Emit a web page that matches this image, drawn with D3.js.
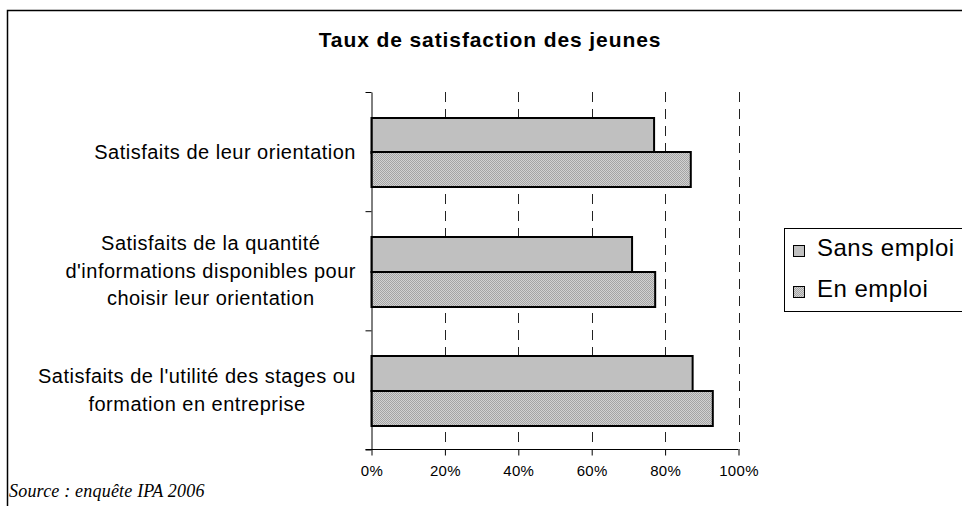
<!DOCTYPE html>
<html>
<head>
<meta charset="utf-8">
<script src="https://cdn.jsdelivr.net/npm/d3@7"></script>
<style>
  html, body { margin: 0; padding: 0; background: #fff; }
  svg { display: block; font-family: "Liberation Sans", Arial, sans-serif; }
</style>
</head>
<body>
<script>
// data
const categories = [
  "Satisfaits de leur orientation",
  "Satisfaits de la quantité\nd'informations disponibles pour\nchoisir leur orientation",
  "Satisfaits de l'utilité des stages ou\nformation en entreprise"
];
const seriesNames = ["Sans emploi", "En emploi"];
const sansEmploi = [0.77, 0.71, 0.875];
const enEmploi = [0.87, 0.773, 0.93];
const xTicks = [0, 0.2, 0.4, 0.6, 0.8, 1.0];

const width = 962, height = 506;
const plot = {left: 371.5, right: 738.5, top: 92, bottom: 449.5};

const svg = d3.select("body").append("svg")
    .attr("width", width)
    .attr("height", height);

// fine dotted fill for "En emploi"
const defs = svg.append("defs");
const pat = defs.append("pattern")
    .attr("id", "dots")
    .attr("width", 2).attr("height", 2)
    .attr("patternUnits", "userSpaceOnUse");
pat.append("rect").attr("width", 2).attr("height", 2).attr("fill", "#d2d2d2");
pat.append("rect").attr("width", 1).attr("height", 1).attr("fill", "#a4a4a4");
pat.append("rect").attr("x", 1).attr("y", 1).attr("width", 1).attr("height", 1).attr("fill", "#a4a4a4");

const fills = ["#c0c0c0", "url(#dots)"];

// chart area border (runs off the right and bottom edges)
svg.append("rect")
    .attr("x", 7.5).attr("y", 10.5)
    .attr("width", 962).attr("height", 505)
    .attr("fill", "none")
    .attr("stroke", "#000")
    .attr("stroke-width", 1.5);

svg.append("text")
    .attr("x", 490).attr("y", 47)
    .attr("text-anchor", "middle")
    .style("font-size", "21px")
    .style("font-weight", "bold")
    .style("letter-spacing", "0.9px")
    .text("Taux de satisfaction des jeunes");

const x = d3.scaleLinear().domain([0, 1]).range([plot.left, plot.right]);
const y = d3.scaleBand().domain(d3.range(categories.length)).range([plot.top, plot.bottom]);
const ySub = d3.scaleBand().domain(d3.range(seriesNames.length))
    .range([y.bandwidth() * 0.215, y.bandwidth() * 0.80]);
const yEdge = d3.scaleLinear().domain([0, categories.length]).range([plot.top, plot.bottom]);

// dashed gridlines
svg.append("g")
  .selectAll("line")
  .data(xTicks.slice(1))
  .join("line")
    .attr("x1", d => Math.round(x(d)) + 0.5)
    .attr("x2", d => Math.round(x(d)) + 0.5)
    .attr("y1", plot.top)
    .attr("y2", plot.bottom)
    .attr("stroke", "#222")
    .attr("stroke-dasharray", "10,7");

// bars
const values = [sansEmploi, enEmploi];
seriesNames.forEach((name, s) => {
  svg.append("g")
    .selectAll("rect")
    .data(values[s])
    .join("rect")
      .attr("x", x(0))
      .attr("y", (d, i) => Math.round(y(i) + ySub(s)))
      .attr("width", d => x(d) - x(0))
      .attr("height", Math.round(ySub.bandwidth()))
      .attr("fill", fills[s])
      .attr("stroke", "#000")
      .attr("stroke-width", 2);
});

// x axis
const xAxis = svg.append("g")
    .attr("transform", `translate(0,${plot.bottom})`)
    .call(d3.axisBottom(x).tickValues(xTicks).tickFormat(d3.format(".0%"))
      .tickSize(6).tickSizeOuter(0).tickPadding(10));
xAxis.select(".domain").remove();
xAxis.append("line")
    .attr("x1", plot.left - 6).attr("x2", plot.right)
    .attr("stroke", "#000");
xAxis.selectAll("text")
    .attr("fill", "#000")
    .style("font-family", "'Liberation Sans', Arial, sans-serif")
    .style("font-size", "15px")
    .style("letter-spacing", "0.3px");

// y axis (ticks on category edges)
const yAxis = svg.append("g")
    .attr("transform", `translate(${plot.left},0)`)
    .call(d3.axisLeft(yEdge).tickValues(d3.range(categories.length + 1))
      .tickFormat("").tickSize(6).tickSizeOuter(0));
yAxis.select(".domain").attr("stroke", "#000");

// category labels: block right-aligned next to the axis, lines centered
const lineH = 27.5;
const labels = svg.append("g")
    .style("font-size", "20px")
    .style("letter-spacing", "0.5px");
categories.forEach((c, i) => {
  const lines = c.split("\n");
  const t = labels.append("text").attr("text-anchor", "middle");
  const spans = lines.map((l, j) => t.append("tspan")
      .attr("y", y(i) + y.bandwidth() / 2 + (j - (lines.length - 1) / 2) * lineH)
      .attr("dy", "0.35em")
      .text(l));
  const w = d3.max(spans, s => s.node().getComputedTextLength());
  spans.forEach(s => s.attr("x", 356 - w / 2));
});

// legend
const legend = svg.append("g");
legend.append("rect")
    .attr("x", 784.5).attr("y", 228.5)
    .attr("width", 200).attr("height", 83)
    .attr("fill", "#fff")
    .attr("stroke", "#000");
seriesNames.forEach((name, s) => {
  const g = legend.append("g").attr("transform", `translate(793,${245 + s * 41})`);
  g.append("rect")
      .attr("x", 0.5).attr("y", 0.5)
      .attr("width", 11).attr("height", 11)
      .attr("fill", fills[s])
      .attr("stroke", "#000");
  g.append("text")
      .attr("x", 24).attr("y", 11)
      .style("font-size", "24px")
      .style("letter-spacing", "0.5px")
      .text(name);
});

// source note
svg.append("text")
    .attr("x", 9).attr("y", 497)
    .style("font-family", "'Liberation Serif', 'Times New Roman', serif")
    .style("font-style", "italic")
    .style("font-size", "18px")
    .style("letter-spacing", "0.2px")
    .text("Source : enquête IPA 2006");
</script>
</body>
</html>
